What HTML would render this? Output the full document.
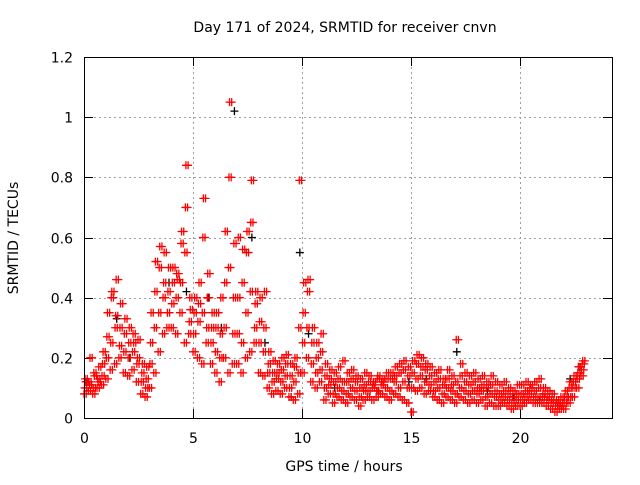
<!DOCTYPE html>
<html><head><meta charset="utf-8"><style>
body{margin:0;background:#fff}
svg text{font-family:"DejaVu Sans","Liberation Sans",sans-serif;font-size:14px;fill:#000}
</style></head><body>
<svg id="chart" width="640" height="480" xmlns="http://www.w3.org/2000/svg">
<rect width="640" height="480" fill="#fff"/>
<text x="345" y="32" text-anchor="middle">Day 171 of 2024, SRMTID for receiver cnvn</text>
<text transform="translate(18,238) rotate(-90)" text-anchor="middle">SRMTID / TECUs</text>
<text x="344" y="471" text-anchor="middle">GPS time / hours</text>
<g id="grid"></g>
<g id="ticks"></g>
<g id="marks"></g>
<rect x="84.5" y="57.5" width="528" height="361" fill="none" stroke="#000" stroke-width="1"/>
</svg>
<script>
const hours=[0,0.2,0.4,0.6,0.8,1,1.2,1.4,1.6,1.8,2,2.2,2.4,2.6,2.8,3,3.2,3.4,3.6,3.8,4,4.2,4.4,4.6,4.8,5,5.2,5.4,5.6,5.8,6,6.2,6.4,6.6,6.8,7,7.2,7.4,7.6,7.8,8,8.2,8.4,8.6,8.8,9,9.2,9.4,9.6,9.8,10,10.2,10.4,10.6,10.8,11,11.2,11.4,11.6,11.8,12,12.2,12.4,12.6,12.8,13,13.2,13.4,13.6,13.8,14,14.2,14.4,14.6,14.8,15,15.2,15.4,15.6,15.8,16,16.2,16.4,16.6,16.8,17,17.2,17.4,17.6,17.8,18,18.2,18.4,18.6,18.8,19,19.2,19.4,19.6,19.8,20,20.2,20.4,20.6,20.8,21,21.2,21.4,21.6,21.8,22,22.2,22.4,22.6,22.8];
const v1=[.08,.09,.08,.10,.11,.13,.16,.18,.20,.15,.14,.16,.12,.08,.07,.10,.15,.22,.28,.30,.30,.28,.35,.25,.28,.22,.20,.18,.25,.18,.15,.12,.20,.15,.18,.18,.15,.20,.22,.25,.15,.14,.10,.08,.09,.08,.10,.07,.06,.08,.15,.20,.12,.10,.12,.06,.08,.05,.07,.06,.05,.07,.06,.04,.06,.07,.06,.07,.08,.07,.06,.08,.07,.06,.05,.02,.09,.10,.08,.09,.07,.06,.05,.07,.06,.05,.07,.06,.05,.06,.05,.06,.04,.05,.04,.04,.05,.04,.03,.04,.04,.05,.06,.05,.05,.05,.04,.03,.02,.03,.03,.05,.07,.10,.14];
const v2=[.10,.12,.10,.13,.14,.20,.25,.30,.24,.22,.20,.22,.18,.12,.10,.18,.30,.35,.40,.35,.38,.40,.45,.55,.32,.28,.32,.35,.30,.25,.22,.20,.30,.50,.28,.28,.25,.35,.42,.30,.25,.22,.15,.12,.13,.12,.14,.10,.12,.15,.25,.30,.18,.15,.16,.10,.11,.08,.10,.09,.08,.10,.09,.07,.09,.09,.10,.09,.11,.10,.09,.12,.10,.12,.10,.10,.13,.14,.12,.11,.09,.10,.08,.10,.09,.08,.10,.09,.08,.09,.08,.09,.07,.08,.07,.06,.07,.06,.05,.06,.06,.07,.08,.07,.07,.07,.06,.05,.04,.04,.05,.07,.10,.13,.16];
const v3=[.13,.11,.15,.12,.18,.27,.40,.34,.30,.28,.25,.28,.20,.15,.13,.25,.42,.50,.45,.42,.45,.48,.58,.70,.40,.35,.38,.60,.40,.30,.30,.28,.45,.80,.40,.40,.45,.55,.65,.38,.32,.30,.18,.15,.15,.16,.18,.14,.17,.30,.35,.42,.25,.20,.22,.14,.13,.12,.13,.12,.12,.13,.12,.10,.11,.12,.11,.13,.12,.13,.13,.14,.15,.16,.14,.15,.18,.17,.16,.14,.12,.13,.11,.13,.11,.12,.14,.12,.11,.12,.10,.11,.10,.11,.09,.08,.09,.08,.07,.08,.08,.09,.10,.09,.10,.08,.07,.06,.05,.05,.07,.10,.12,.15,.18];
const v4=[.12,.20,.14,.17,.22,.35,.42,.46,.38,.33,.30,.25,.26,.18,.17,.35,.52,.57,.55,.50,.50,.46,.62,.84,.36,.40,.45,.73,.48,.35,.35,.40,.62,1.05,.58,.60,.56,.62,.79,.42,.40,.42,.22,.19,.18,.20,.21,.18,.20,.79,.45,.46,.30,.25,.28,.18,.16,.15,.17,.19,.15,.16,.14,.13,.15,.14,.12,.14,.13,.15,.15,.17,.18,.19,.17,.19,.21,.20,.18,.17,.15,.16,.13,.16,.14,.26,.18,.15,.14,.15,.13,.14,.12,.14,.12,.11,.12,.10,.09,.11,.11,.12,.11,.12,.13,.10,.09,.08,.06,.07,.09,.12,.14,.17,.19];
const blackHours=[0.1,1.5,2.1,3.9,4.7,5.7,6.3,6.9,7.7,8.3,9.5,9.9,10.3,11.5,13.5,14.9,15.7,17.1,18.5,19.7,20.9,22.3,22.7];
const blackVals=[.12,.33,.20,.45,.42,.40,.30,1.02,.60,.25,.07,.55,.28,.10,.09,.12,.13,.22,.09,.07,.06,.13,.17];
const yTicks=[0,0.2,0.4,0.6,0.8,1,1.2];
const yTickLabels=["0","0.2","0.4","0.6","0.8","1","1.2"];
const xTicks=[0,5,10,15,20];
const xTickLabels=["0","5","10","15","20"];

const L=84,R=612,T=57,B=418,XMAX=24.22,YMAX=1.2;
const X=v=>L+v/XMAX*(R-L);
const Y=v=>B-v/YMAX*(B-T);
const NS="http://www.w3.org/2000/svg";
const grid=document.getElementById('grid'),ticks=document.getElementById('ticks'),marks=document.getElementById('marks');
function ln(p,x1,y1,x2,y2,st,dash){const e=document.createElementNS(NS,'line');e.setAttribute('x1',x1);e.setAttribute('y1',y1);e.setAttribute('x2',x2);e.setAttribute('y2',y2);e.setAttribute('stroke',st);if(dash)e.setAttribute('stroke-dasharray',dash);p.appendChild(e);return e;}
function tx(p,x,y,s,anchor){const e=document.createElementNS(NS,'text');e.setAttribute('x',x);e.setAttribute('y',y);e.setAttribute('text-anchor',anchor);e.textContent=s;p.appendChild(e);return e;}
yTicks.forEach((v,i)=>{const y=Math.round(Y(v))+0.5;
 if(v>0&&v<YMAX){const g=ln(grid,L,y,R,y,'#a0a0a0','2,3');
 
 }
 ln(ticks,L,y,L+9,y,'#000');ln(ticks,R-9,y,R,y,'#000');
 const t=tx(ticks,73,y+5,yTickLabels[i],'end');
 
 });
xTicks.forEach((v,i)=>{const x=Math.round(X(v))+0.5;
 if(v>0){const g=ln(grid,x,T,x,B,'#a0a0a0','2,3');
 
 }
 ln(ticks,x,B,x,B-9,'#000');ln(ticks,x,T,x,T+9,'#000');
 const t=tx(ticks,x,443,xTickLabels[i],'middle');
 
 });
function plus(x,y,col){const e=document.createElementNS(NS,'path');e.setAttribute('d',`M${x-4} ${y}h8M${x} ${y-4}v8`);e.setAttribute('stroke',col);e.setAttribute('stroke-width','1.3');marks.appendChild(e);return e;}
blackHours.forEach((h,i)=>{const p=plus(X(h),Y(blackVals[i]),'#000');
 
 });
const offs=[0,0.05,0.1,0.15];
[v1,v2,v3,v4].forEach((arr,k)=>{arr.forEach((v,i)=>{
 [0,0.1].forEach(d=>{const p=plus(X(hours[i]+offs[k]*0.5+d),Y(v),'#f00');
 
 });});});
</script>
</body></html>
